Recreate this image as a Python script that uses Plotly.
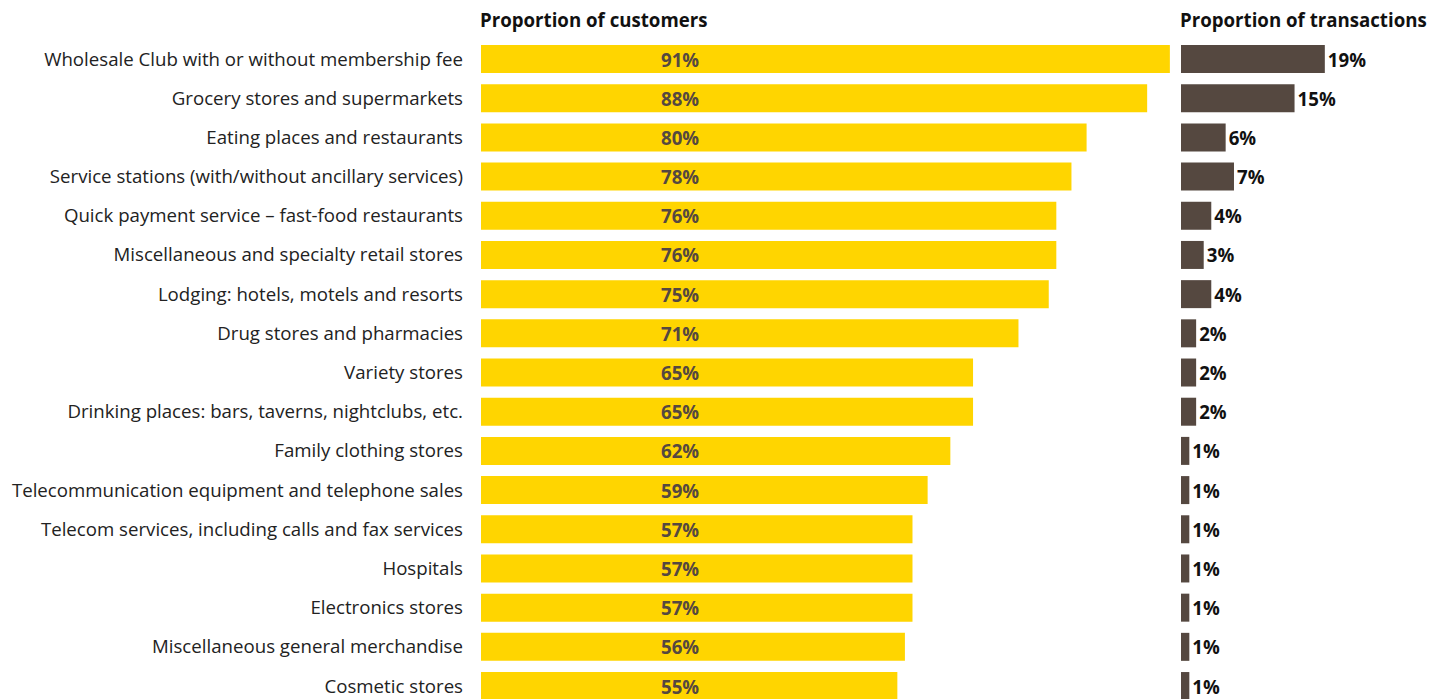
import plotly.graph_objects as go

categories = [
    "Wholesale Club with or without membership fee",
    "Grocery stores and supermarkets",
    "Eating places and restaurants",
    "Service stations (with/without ancillary services)",
    "Quick payment service – fast-food restaurants",
    "Miscellaneous and specialty retail stores",
    "Lodging: hotels, motels and resorts",
    "Drug stores and pharmacies",
    "Variety stores",
    "Drinking places: bars, taverns, nightclubs, etc.",
    "Family clothing stores",
    "Telecommunication equipment and telephone sales",
    "Telecom services, including calls and fax services",
    "Hospitals",
    "Electronics stores",
    "Miscellaneous general merchandise",
    "Cosmetic stores",
]
customers = [91, 88, 80, 78, 76, 76, 75, 71, 65, 65, 62, 59, 57, 57, 57, 56, 55]
transactions = [19, 15, 5.9, 7, 4, 3, 4, 2, 2, 2, 1.1, 1.1, 1.1, 1.1, 1.1, 1.1, 1.1]

YELLOW = "#FFD500"
BROWN = "#554840"
FONT = "Open Sans"
FS = 18.67

W, H = 1445, 699
L, T = 481, 40
plot_w = W - L
scale = 7.57  # px per percentage point
left_range = 92.0
d1 = left_range * scale / plot_w
d2 = (1181 - L) / plot_w
right_range = (W - 1181) / scale

fig = go.Figure()
fig.add_trace(go.Bar(
    x=customers, y=categories, orientation="h",
    marker=dict(color=YELLOW, line=dict(width=0)),
    xaxis="x", yaxis="y", hoverinfo="skip", showlegend=False,
))
fig.add_trace(go.Bar(
    x=transactions, y=categories, orientation="h",
    marker=dict(color=BROWN, line=dict(width=0)),
    text=[f"{v:.0f}%" for v in transactions], textposition="outside",
    textfont=dict(family=FONT, size=FS, color="#111111", weight="bold"),
    cliponaxis=False,
    xaxis="x2", yaxis="y", hoverinfo="skip", showlegend=False,
))

plot_h = H - T
row_px = 39.19
top = -(59 - T) / row_px
bottom = top + plot_h / row_px

annotations = [
    dict(text="<b>Proportion of customers</b>", xref="x", x=0, xanchor="left", xshift=-3,
         yref="paper", y=1 + (T - 19) / plot_h, yanchor="middle", showarrow=False,
         font=dict(family=FONT, size=FS, color="#111111")),
    dict(text="<b>Proportion of transactions</b>", xref="x2", x=0, xanchor="left", xshift=-3,
         yref="paper", y=1 + (T - 19) / plot_h, yanchor="middle", showarrow=False,
         font=dict(family=FONT, size=FS, color="#111111")),
]
for cat, v in zip(categories, customers):
    annotations.append(dict(
        text=f"<b>{v:.0f}%</b>", xref="x", x=26.35, xanchor="center",
        yref="y", y=cat, yanchor="middle", showarrow=False,
        font=dict(family=FONT, size=FS, color=BROWN),
    ))

fig.update_layout(
    width=W, height=H,
    margin=dict(l=L, r=0, t=T, b=0),
    paper_bgcolor="white", plot_bgcolor="white",
    bargap=0.2855,
    font=dict(family=FONT, size=FS, color="#222222"),
    xaxis=dict(domain=[0, d1], range=[0, left_range], visible=False, fixedrange=True),
    xaxis2=dict(domain=[d2, 1], range=[0, right_range], visible=False, anchor="y", fixedrange=True),
    yaxis=dict(
        type="category", categoryorder="array", categoryarray=categories,
        range=[bottom, top], showgrid=False, zeroline=False, showline=False,
        ticks="", ticklabelstandoff=17, tickfont=dict(family=FONT, size=FS, color="#222222"),
    ),
    annotations=annotations,
)

fig.write_html("out.html")
